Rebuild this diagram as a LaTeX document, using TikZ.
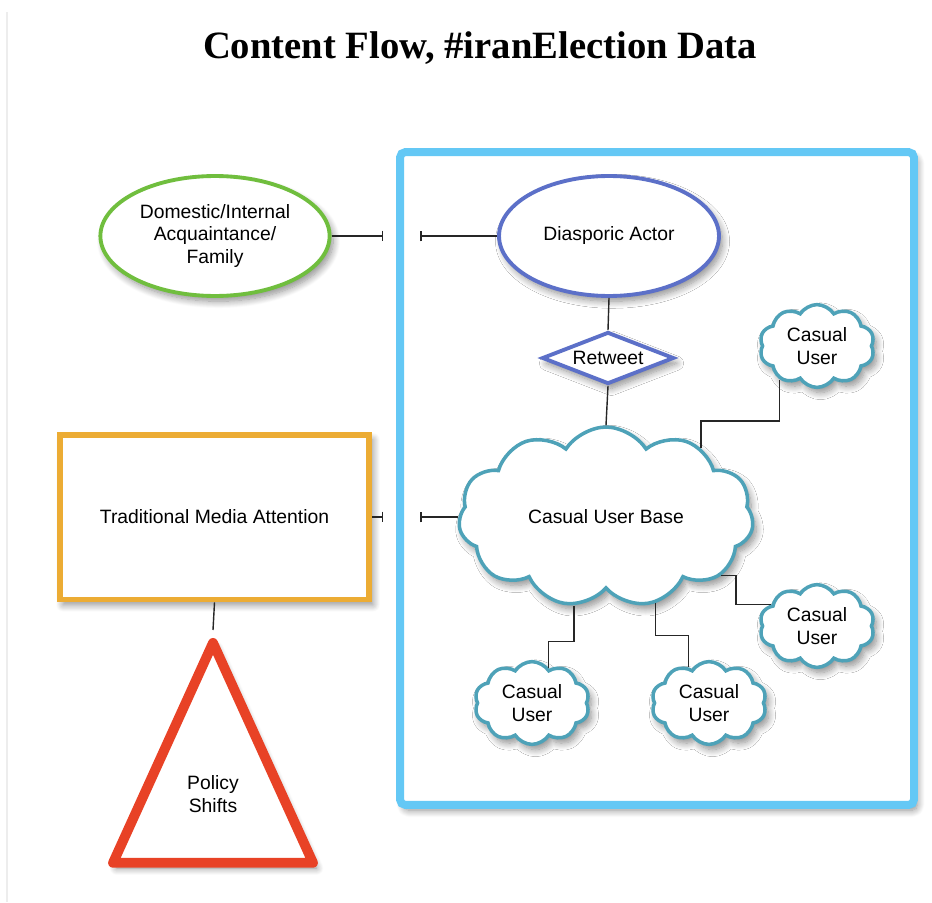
\documentclass[tikz,border=0pt]{standalone}
\usepackage{fontspec}
\setmainfont{Liberation Sans}
\newfontfamily\titlefont{Liberation Serif}
\usepackage{xcolor}
\definecolor{skyblue}{RGB}{100, 200, 245}
\definecolor{leafgreen}{RGB}{112, 190,  62}
\definecolor{royal}{RGB}{ 92, 112, 200}
\definecolor{amber}{RGB}{236, 172,  52}
\definecolor{signal}{RGB}{232,  66,  38}
\definecolor{lagoon}{RGB}{ 78, 162, 184}
\usetikzlibrary{shapes.geometric, shapes.symbols, arrows.meta, calc, shadows.blur}
\tikzset{
  softshadow/.style={blur shadow={shadow xshift=2pt, shadow yshift=-3pt,
    shadow blur steps=10, shadow blur radius=4pt, shadow opacity=45}},
  actornode/.style={ellipse, draw=#1, line width=2.2pt, fill=white, softshadow,
    minimum width=4.4cm, minimum height=2.4cm, align=center, font=\fontsize{11}{13}\selectfont},
  retweetbox/.style={diamond, draw=royal, line width=2.2pt, fill=white, softshadow,
    aspect=2.4, inner sep=0pt, minimum width=2.64cm, minimum height=1.04cm,
    font=\fontsize{11}{13}\selectfont},
  basecloud/.style={cloud, cloud puffs=11, cloud puff arc=115, cloud ignores aspect,
    draw=lagoon, line width=2pt, fill=white, softshadow,
    minimum width=5.9cm, minimum height=3.6cm, font=\fontsize{11}{13}\selectfont},
  usercloud/.style={cloud, cloud puffs=10, cloud puff arc=115, cloud ignores aspect,
    draw=lagoon, line width=2pt, fill=white, softshadow, align=center,
    minimum width=2.3cm, minimum height=1.36cm, font=\fontsize{11}{13}\selectfont},
  mediabox/.style={rectangle, draw=amber, line width=3.4pt, fill=white, softshadow,
    minimum width=6.2cm, minimum height=3.3cm, font=\fontsize{11}{13}\selectfont},
  policybox/.style={isosceles triangle, shape border rotate=90, isosceles triangle stretches,
    draw=signal, line width=5.6pt, line join=round, fill=white, softshadow,
    minimum width=4.0cm, minimum height=4.4cm, align=center, text depth=0.42cm,
    font=\fontsize{11}{13}\selectfont},
  framebox/.style={rectangle, draw=skyblue, fill=white, line width=4.5pt, rounded corners=3pt,
    softshadow, minimum width=10.28cm, minimum height=13.06cm},
  link/.style={draw=black!85, line width=0.8pt},
  barlink/.style={link, -{Bar[width=6pt, line width=0.8pt]}}
}

\begin{document}
\begin{tikzpicture}[x=0.02cm, y=-0.02cm]
  \useasboundingbox (0,0) rectangle (932,902);
  \draw[black!7, line width=0.6pt] (7,12) -- (7,902);

  \node[font=\titlefont\fontsize{22}{26}\selectfont\bfseries] (title) at (480,48)
    {Content Flow, \#iranElection Data};

  \node[framebox] (frame) at (657,478.5) {};

  \node[actornode=leafgreen] (domestic) at (215,236)
    {Domestic/Internal\\Acquaintance/\\Family};
  \node[actornode=royal] (diaspora) at (609,236) {Diasporic Actor};
  \node[retweetbox] (retweet) at (608,358) {Retweet};
  \node[basecloud] (base) at (606,517) {Casual User Base};

  \node[usercloud] (user1) at (817,346) {Casual\\User};
  \node[usercloud] (user2) at (817,626) {Casual\\User};
  \node[usercloud] (user3) at (532,703) {Casual\\User};
  \node[usercloud] (user4) at (709,703) {Casual\\User};

  \node[mediabox] (media) at (214.5,517) {Traditional Media Attention};
  \node[policybox, anchor=apex] (policy) at (213,630) {Policy\\Shifts};

  % blocked hand-offs across the frame
  \draw[barlink] (domestic.east) -- ($(domestic.east -| frame.west)+(-13,0)$);
  \draw[barlink] (diaspora.west) -- ($(diaspora.west -| frame.west)+(24,0)$);
  \draw[barlink] (media.east) -- ($(media.east -| frame.west)+(-13,0)$);
  \draw[barlink] (base.west) -- ($(base.west -| frame.west)+(24,0)$);

  \draw[link] (diaspora.south) -- (retweet.north);
  \draw[link] (retweet.south) -- (base.north);
  \draw[link] (media.south) -- (policy.apex);

  % stepped links out to the single users
  \draw[link] (base.36) -- ++(0,-27) -| (user1.222);
  \draw[link] (base.-27) -- ++(15,0) |- (user2.155);
  \draw[link] (base.250) -- ++(0,36) -| (user3.65);
  \draw[link] (base.-60) -- ++(0,32) -| (user4.120);
\end{tikzpicture}
\end{document}
